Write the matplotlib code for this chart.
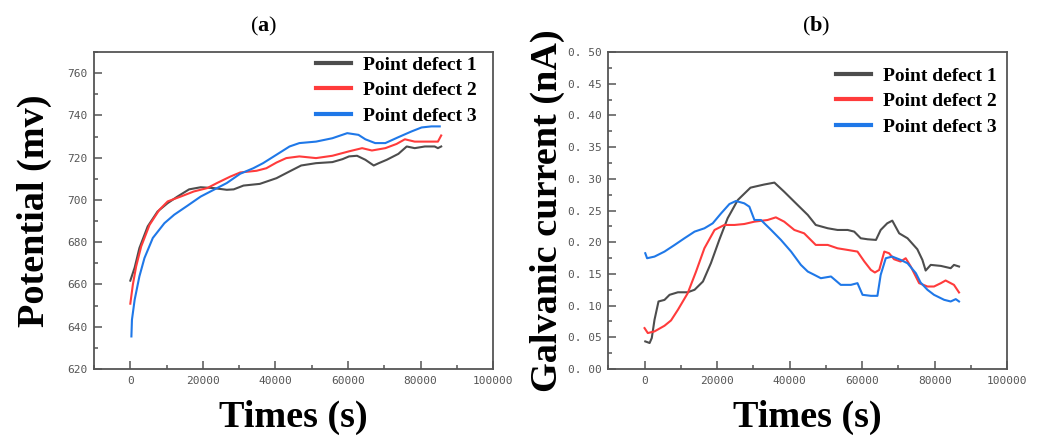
import matplotlib
matplotlib.use("Agg")
import matplotlib.pyplot as plt
from matplotlib.ticker import MultipleLocator, FixedLocator, FixedFormatter

# ---- (a) open-circuit potential, mV ----
pot_t1 = [0, 1200, 2500, 4800, 7500, 10300, 13000, 16200, 19400, 23000, 26600, 28500,
          31200, 35700, 40300, 43900, 47100, 51200, 55700, 58500, 60300, 62500, 64800,
          67100, 68500, 70700, 73900, 76200, 78400, 81200, 83900, 84800, 85700]
pot_v1 = [661.8, 668.0, 677.2, 687.5, 694.5, 698.5, 701.6, 705.0, 706.0, 705.6, 704.8, 705.0,
          706.8, 707.6, 710.3, 713.5, 716.3, 717.4, 717.9, 719.3, 720.6, 720.9, 719.0,
          716.3, 717.4, 719.0, 721.8, 725.3, 724.5, 725.3, 725.3, 724.5, 725.3]

pot_t2 = [0, 700, 1600, 3000, 5300, 8000, 10300, 13900, 17500, 21200, 23900, 27500,
          30300, 34800, 37500, 40300, 43000, 46600, 51200, 55700, 60300, 63900, 66600,
          70300, 73400, 75700, 78400, 82000, 84800, 85700]
pot_v2 = [650.9, 659.9, 668.5, 678.0, 688.2, 695.3, 699.3, 701.6, 704.0, 705.6, 708.0, 711.0,
          713.0, 713.8, 715.0, 717.7, 719.8, 720.6, 719.8, 720.9, 723.0, 724.5, 723.4,
          724.5, 726.5, 728.7, 727.6, 727.6, 727.6, 730.5]

pot_t3 = [300, 450, 1200, 2500, 3900, 6200, 9400, 12100, 15700, 19400, 23000, 26600,
          30300, 33900, 36600, 40300, 43900, 46600, 51200, 55700, 59800, 62900, 64800,
          67500, 70300, 73900, 77500, 80300, 83000, 85300]
pot_v3 = [635.4, 643.3, 652.8, 663.8, 672.5, 682.0, 689.0, 693.0, 697.2, 701.6, 704.8, 708.0,
          712.4, 715.0, 717.4, 721.4, 725.3, 726.9, 727.6, 729.2, 731.6, 730.8, 728.7,
          726.9, 726.9, 729.7, 732.4, 734.3, 734.8, 734.8]

# ---- (b) galvanic current, nA ----
cur_t1 = [200, 1400, 2000, 2750, 3850, 5500, 6900, 9200, 11900, 13800, 16100, 18300,
          20600, 22900, 25700, 29200, 30300, 33000, 35800, 38500, 42200, 45000, 47200,
          50500, 53200, 56000, 57800, 59600, 61500, 63800, 65100, 66900, 68300, 70200,
          72500, 75200, 76600, 77500, 78900, 81700, 84400, 85300, 86700]
cur_v1 = [0.0435, 0.041, 0.049, 0.0777, 0.1065, 0.109, 0.117, 0.121, 0.121, 0.125, 0.138, 0.167,
          0.2036, 0.2377, 0.2665, 0.286, 0.2875, 0.291, 0.294, 0.2796, 0.2587, 0.243, 0.2272,
          0.222, 0.2193, 0.2193, 0.2167, 0.2062, 0.2046, 0.2036, 0.2193, 0.2298, 0.234, 0.214,
          0.2062, 0.1889, 0.1721, 0.1553, 0.1642, 0.1626, 0.159, 0.1642, 0.1616]

cur_t2 = [0, 900, 2750, 5500, 7300, 9200, 11900, 14200, 16500, 19300, 22000, 24800,
          27500, 30300, 33900, 36200, 38500, 41300, 44000, 47200, 50500, 53200, 56000,
          58700, 60600, 62400, 63500, 64700, 66100, 67400, 68800, 70600, 72000, 73400,
          75700, 78000, 79800, 81700, 83000, 85300, 86700]
cur_v2 = [0.0645, 0.0567, 0.0593, 0.0682, 0.0766, 0.0934, 0.1196, 0.1537, 0.1904, 0.2193, 0.2272, 0.2272,
          0.2287, 0.2324, 0.235, 0.2392, 0.2324, 0.2193, 0.214, 0.1957, 0.1957, 0.1904, 0.1878,
          0.1852, 0.1695, 0.1563, 0.1522, 0.1563, 0.1852, 0.1826, 0.1731, 0.1695, 0.1747, 0.1616,
          0.1354, 0.1301, 0.1301, 0.1354, 0.1396, 0.1327, 0.1207]

cur_t3 = [200, 700, 2750, 5500, 8300, 11000, 13800, 16500, 18800, 21100, 23400, 25200,
          27500, 28900, 30300, 32100, 34900, 37600, 40400, 43100, 45000, 46800, 48600,
          51400, 54100, 56900, 58700, 60100, 62400, 64200, 65100, 66500, 68300, 70600,
          72500, 74800, 76100, 78000, 79800, 82600, 84400, 85800, 86700]
cur_v3 = [0.1826, 0.1747, 0.1773, 0.1852, 0.1957, 0.2062, 0.2167, 0.2219, 0.2298, 0.2455, 0.2602, 0.265,
          0.2613, 0.256, 0.235, 0.235, 0.2193, 0.2036, 0.1852, 0.1642, 0.1537, 0.1485, 0.1432,
          0.1459, 0.1327, 0.1327, 0.1354, 0.117, 0.1154, 0.1154, 0.1485, 0.1747, 0.1773, 0.1721,
          0.1668, 0.1511, 0.1364, 0.1249, 0.117, 0.1091, 0.1065, 0.1102, 0.1065]

series_labels = ["Point defect 1", "Point defect 2", "Point defect 3"]
series_colors = ["#4d4d4d", "#ff3b3b", "#1f78e8"]

x_ticks = [0, 20000, 40000, 60000, 80000, 100000]
pot_ticks = [620, 640, 660, 680, 700, 720, 740, 760]
cur_ticks = [0.00, 0.05, 0.10, 0.15, 0.20, 0.25, 0.30, 0.35, 0.40, 0.45, 0.50]
cur_tick_labels = ["0. 00", "0. 05", "0. 10", "0. 15", "0. 20", "0. 25",
                   "0. 30", "0. 35", "0. 40", "0. 45", "0. 50"]

SERIF = "Liberation Serif"
TICK_FONT = "DejaVu Sans Mono"
SPINE = "#555555"

plt.rcParams["mathtext.fontset"] = "custom"
plt.rcParams["mathtext.rm"] = "Liberation Serif"
plt.rcParams["mathtext.bf"] = "Liberation Serif:bold"

fig = plt.figure(figsize=(10.38, 4.36), dpi=100)
ax_a = fig.add_axes([0.0906, 0.1537, 0.3844, 0.727])
ax_b = fig.add_axes([0.5860, 0.1537, 0.3844, 0.727])


def style_axes(ax):
    for s in ax.spines.values():
        s.set_color(SPINE)
        s.set_linewidth(1.3)
    ax.tick_params(which="both", direction="in", color=SPINE, width=1.1,
                   labelcolor="#555555", labelsize=8, top=False, right=False)
    ax.tick_params(which="major", length=5.5, pad=5)
    ax.tick_params(which="minor", length=3)
    ax.set_xlim(-10000, 100000)
    ax.xaxis.set_major_locator(FixedLocator(x_ticks))
    ax.xaxis.set_minor_locator(MultipleLocator(10000))
    ax.set_xticklabels([str(v) for v in x_ticks])
    for lbl in ax.get_xticklabels() + ax.get_yticklabels():
        lbl.set_fontfamily(TICK_FONT)
    ax.set_xlabel("Times (s)", fontfamily=SERIF, fontweight="bold", fontsize=27.5, labelpad=10)


# (a) potential
for t, v, lab, col in zip([pot_t1, pot_t2, pot_t3], [pot_v1, pot_v2, pot_v3],
                          series_labels, series_colors):
    ax_a.plot(t, v, color=col, lw=1.5, label=lab)
ax_a.set_ylim(620, 770)
ax_a.yaxis.set_major_locator(FixedLocator(pot_ticks))
ax_a.yaxis.set_minor_locator(MultipleLocator(10))
ax_a.set_yticklabels([str(v) for v in pot_ticks])
style_axes(ax_a)
ax_a.set_ylabel("Potential (mv)", fontfamily=SERIF, fontweight="bold", fontsize=27.5, labelpad=11)

# (b) galvanic current
for t, v, lab, col in zip([cur_t1, cur_t2, cur_t3], [cur_v1, cur_v2, cur_v3],
                          series_labels, series_colors):
    ax_b.plot(t, v, color=col, lw=1.5, label=lab)
ax_b.set_ylim(0, 0.5)
ax_b.yaxis.set_major_locator(FixedLocator(cur_ticks))
ax_b.yaxis.set_minor_locator(MultipleLocator(0.025))
ax_b.yaxis.set_major_formatter(FixedFormatter(cur_tick_labels))
style_axes(ax_b)
ax_b.set_ylabel("Galvanic current (nA)", fontfamily=SERIF, fontweight="bold", fontsize=27.5, labelpad=2)

legend_font = {"family": SERIF, "weight": "bold", "size": 14}
for ax, anchor in ((ax_a, (0.993, 1.03)), (ax_b, (1.008, 0.995))):
    leg = ax.legend(loc="upper right", bbox_to_anchor=anchor, frameon=False, prop=legend_font,
                    handlelength=1.8, handletextpad=0.6, labelspacing=0.4, borderaxespad=0.3)
    for h in leg.get_lines():
        h.set_linewidth(3)

# panel captions: bold letter inside regular parentheses
for ax, letter, xpos in ((ax_a, "a", 0.424), (ax_b, "b", 0.521)):
    ax.text(xpos, 1.08, "(" + r"$\mathbf{" + letter + "}$" + ")", transform=ax.transAxes,
            ha="center", va="center", fontsize=16, fontfamily=SERIF)

fig.savefig("out.png", dpi=100, facecolor="white")
